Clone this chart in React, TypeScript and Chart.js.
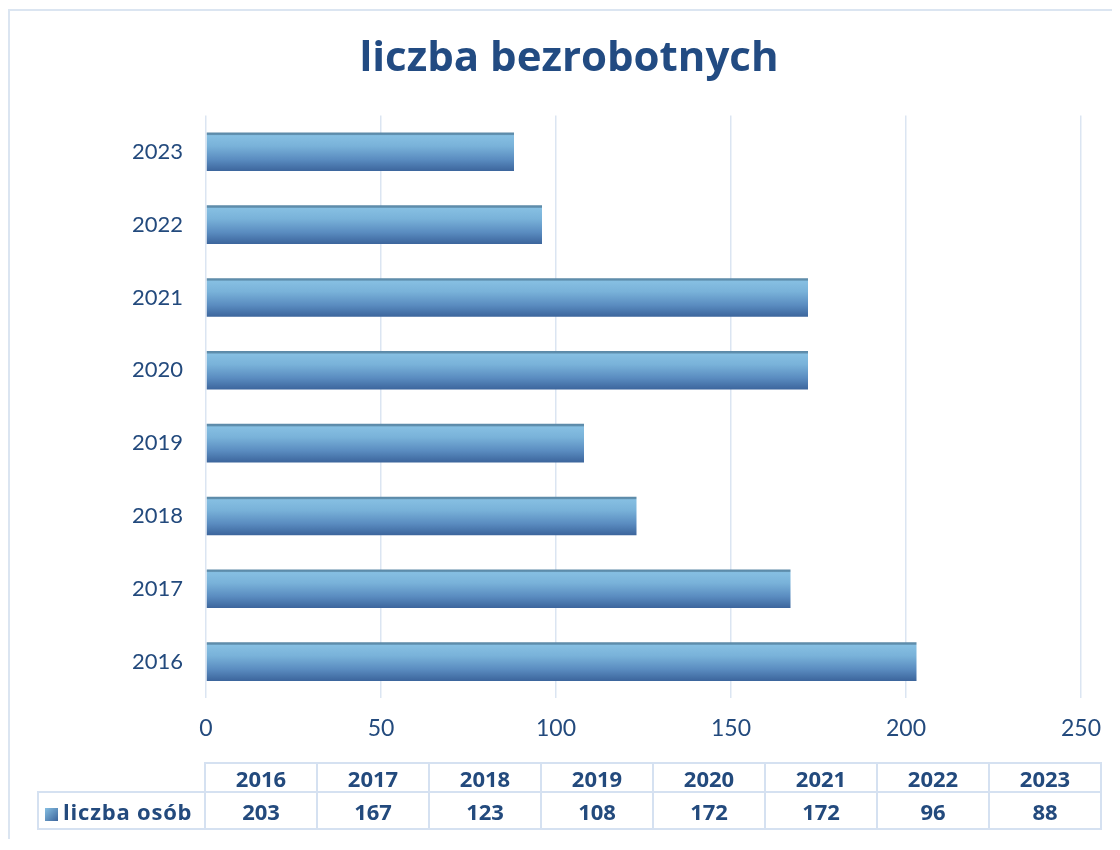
import React, { useEffect, useRef } from "react";
import { Chart, registerables } from "chart.js";

Chart.register(...registerables);

const titleText = "liczba bezrobotnych";
const seriesName = "liczba osób";
const years = ["2016", "2017", "2018", "2019", "2020", "2021", "2022", "2023"];
const counts = [203, 167, 123, 108, 172, 172, 96, 88];
const xMin = 0;
const xMax = 250;
const xStep = 50;

const FONT = "Lato, 'Open Sans', sans-serif";
const BOLD_FONT = "'Open Sans', Lato, sans-serif";
const TEXT_COLOR = "#234a7d";
const GRID_COLOR = "#dbe5f2";
const BAR_PCT = 0.53;

function barGradient(ctx: any) {
  const chart = ctx.chart;
  const c = chart.ctx;
  const yScale = chart.scales && chart.scales.y;
  if (!yScale || ctx.dataIndex === undefined || !chart.chartArea) return "#5f94c4";
  const center = yScale.getPixelForValue(ctx.dataIndex);
  const band = (yScale.bottom - yScale.top) / years.length;
  const h = band * BAR_PCT;
  const g = c.createLinearGradient(0, center - h / 2, 0, center + h / 2);
  g.addColorStop(0, "#5b88a6");
  g.addColorStop(0.05, "#5f8fae");
  g.addColorStop(0.08, "#86bfe2");
  g.addColorStop(0.35, "#79b2d9");
  g.addColorStop(0.7, "#5a8cc0");
  g.addColorStop(1, "#3c659c");
  return g;
}

export default function App() {
  const canvasRef = useRef<HTMLCanvasElement | null>(null);

  useEffect(() => {
    if (!canvasRef.current) return;
    const chart = new Chart(canvasRef.current, {
      type: "bar",
      data: {
        labels: years,
        datasets: [
          {
            label: seriesName,
            data: counts,
            backgroundColor: barGradient,
            borderWidth: 0,
            barPercentage: BAR_PCT,
            categoryPercentage: 1,
          },
        ],
      },
      options: {
        indexAxis: "y",
        animation: false,
        responsive: false,
        devicePixelRatio: 1,
        layout: { padding: { top: 0, left: 47, right: 31, bottom: 81 } },
        plugins: {
          legend: { display: false },
          tooltip: { enabled: false },
          title: {
            display: true,
            text: titleText,
            color: "#224b82",
            font: { family: BOLD_FONT, size: 42, weight: "bold" },
            padding: { top: 23, bottom: 31 },
          },
        },
        scales: {
          x: {
            min: xMin,
            max: xMax,
            ticks: {
              stepSize: xStep,
              color: TEXT_COLOR,
              font: { family: FONT, size: 23 },
              padding: 17,
            },
            grid: { color: GRID_COLOR, lineWidth: 1.5, drawTicks: false },
            border: { display: false },
            afterFit: (s: any) => {
              s.height = 60;
              s.paddingLeft = 0;
              s.paddingRight = 0;
            },
          },
          y: {
            reverse: true,
            ticks: {
              color: TEXT_COLOR,
              font: { family: FONT, size: 22 },
              padding: 23,
            },
            grid: { display: false, drawTicks: false },
            border: { display: false },
            afterFit: (s: any) => {
              s.width = 149;
              s.paddingTop = 0;
              s.paddingBottom = 0;
            },
          },
        },
      },
    });
    return () => chart.destroy();
  }, []);

  const cellBorder = "2px solid #d5e1f1";
  const cell: React.CSSProperties = {
    border: cellBorder,
    width: 110,
    padding: 0,
    textAlign: "center",
    verticalAlign: "middle",
  };

  return (
    <div
      style={{
        position: "relative",
        marginTop: 1,
        borderTop: "2px solid #dbe5f1",
        borderLeft: "2px solid #dbe5f1",
        width: 1102,
        height: 828,
        background: "#fff",
      }}
    >
      <canvas ref={canvasRef} width={1102} height={828} style={{ display: "block" }} />
      <table
        style={{
          position: "absolute",
          left: 27,
          top: 751,
          borderCollapse: "collapse",
          tableLayout: "fixed",
          fontFamily: BOLD_FONT,
          fontWeight: 700,
          fontSize: 22,
          lineHeight: "24px",
          color: TEXT_COLOR,
        }}
      >
        <tbody>
          <tr style={{ height: 29 }}>
            <td style={{ width: 166, padding: 0, borderTop: "none", borderLeft: "none" }}></td>
            {years.map((y) => (
              <td key={y} style={cell}>
                {y}
              </td>
            ))}
          </tr>
          <tr style={{ height: 37 }}>
            <td
              style={{
                border: cellBorder,
                padding: "0 0 0 6px",
                whiteSpace: "nowrap",
                textAlign: "left",
                letterSpacing: "0.8px",
              }}
            >
              <span
                style={{
                  display: "inline-block",
                  width: 13,
                  height: 13,
                  marginRight: 5,
                  verticalAlign: "-1px",
                  background: "linear-gradient(135deg, #86bfe2, #3c659c)",
                }}
              ></span>
              {seriesName}
            </td>
            {counts.map((v, i) => (
              <td key={i} style={cell}>
                {v}
              </td>
            ))}
          </tr>
        </tbody>
      </table>
    </div>
  );
}
